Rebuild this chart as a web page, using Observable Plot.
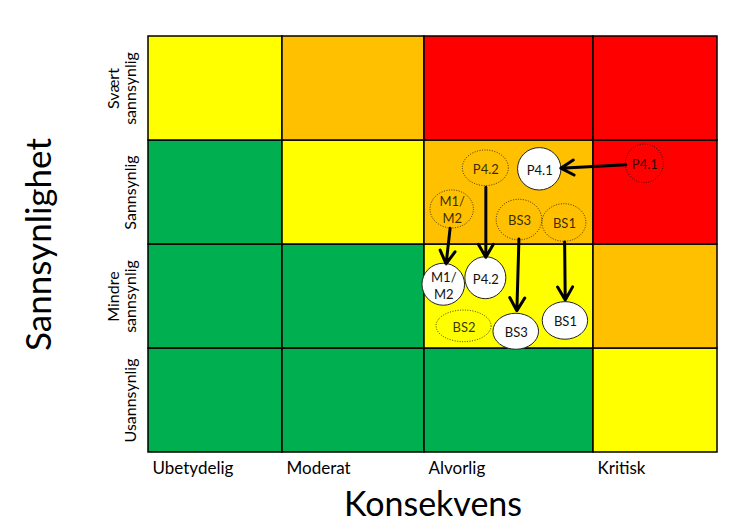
<!DOCTYPE html>
<html><head><meta charset="utf-8">
<script src="https://cdn.jsdelivr.net/npm/d3@7"></script>
<script src="https://cdn.jsdelivr.net/npm/@observablehq/plot@0.6"></script>
<style>body{margin:0;background:#fff}</style>
</head><body><div id="chart"></div>
<script>
// ---- data ----
const konsekvens = ["Ubetydelig", "Moderat", "Alvorlig", "Kritisk"];
const sannsynlighet = ["Usannsynlig", "Mindre\nsannsynlig", "Sannsynlig", "Svært\nsannsynlig"]; // bottom → top
const risikoNivaa = [ // per likelihood row (bottom → top), level per consequence column
  [0, 0, 0, 1],
  [0, 0, 1, 2],
  [0, 1, 2, 3],
  [1, 2, 3, 3]
];
const nivaaFarger = ["#00B050", "#FFFF00", "#FFC000", "#FF0000"];

const tiltak = ["P4.1", "P4.2", "M1/\nM2", "BS3", "BS1", "BS2"];
const forKonsekvens = [3.414, 2.363, 2.164, 2.562, 2.828, 2.234];
const forSannsynlighet = [2.776, 2.733, 2.337, 2.235, 2.207, 1.213];
const etterKonsekvens = [2.682, 2.363, 2.114, 2.543, 2.834, null];
const etterSannsynlighet = [2.723, 1.676, 1.613, 1.161, 1.265, null];

// ---- layout / style ----
const kolonneBredder = [134, 142, 169, 124]; // relative widths of the consequence columns
const kolonneStart = [0];
kolonneBredder.forEach((w, i) => kolonneStart.push(kolonneStart[i] + w));
const konsTransform = v => {
  const c = Math.min(Math.floor(v), kolonneBredder.length - 1);
  return kolonneStart[c] + (v - c) * kolonneBredder[c];
};
const forRx = [19, 23, 21.7, 22.8, 22, 27.5];
const forRy = [19.3, 17.8, 19, 20.3, 18.8, 15.8];
const etterRx = [21.7, 20.5, 21.3, 22.8, 22.7];
const etterRy = [21.2, 21, 21, 18, 18.8];

const cells = risikoNivaa.flatMap((row, r) => row.map((lvl, c) => ({c, r, lvl})));
const items = tiltak.map((t, i) => ({t, i, fx: forKonsekvens[i], fy: forSannsynlighet[i], ex: etterKonsekvens[i], ey: etterSannsynlighet[i]}));
const moved = items.filter(d => d.ex != null);

// render dots as ellipses
const ellipseRender = (rx, ry, attrs) => (index, scales, values) => {
  const g = d3.create("svg:g");
  for (const i of index) {
    const e = g.append("ellipse")
      .attr("cx", values.x[i]).attr("cy", values.y[i])
      .attr("rx", rx[i]).attr("ry", ry[i]);
    for (const [k, v] of Object.entries(attrs)) e.attr(k, v);
  }
  return g.node();
};

const chart = Plot.plot({
  width: 736, height: 523,
  marginLeft: 148, marginRight: 19, marginTop: 36, marginBottom: 71,
  style: {fontFamily: "Lato, sans-serif", background: "#fff", overflow: "visible"},
  x: {domain: [0, kolonneStart[4]], transform: konsTransform, axis: null},
  y: {domain: [0, 4], axis: null},
  color: {type: "ordinal", domain: [0, 1, 2, 3], range: nivaaFarger},
  marks: [
    Plot.rect(cells, {x1: "c", x2: d => d.c + 1, y1: "r", y2: d => d.r + 1, fill: "lvl", stroke: "#000", strokeWidth: 1.5}),
    Plot.axisX(d3.range(konsekvens.length), {tickSize: 0, tickPadding: 9, tickFormat: i => konsekvens[i], textAnchor: "start", dx: 4, fontSize: 17, fill: "#000", label: null}),
    Plot.text(sannsynlighet, {y: (d, i) => i + 0.5, text: d => d, frameAnchor: "left", textAnchor: "middle", dx: -13, rotate: -90, lineAnchor: "bottom", fontSize: 16, lineHeight: 1.06, fill: "#000"}),
    Plot.text(["Sannsynlighet"], {text: d => d, frameAnchor: "left", textAnchor: "middle", dx: -98, rotate: -90, lineAnchor: "bottom", fontSize: 35, fill: "#000"}),
    Plot.text(["Konsekvens"], {text: d => d, frameAnchor: "bottom", dy: 63, lineAnchor: "bottom", fontSize: 34, fill: "#000"}),
    Plot.dot(items, {x: "fx", y: "fy", r: 20, fill: "none", stroke: "#000", strokeOpacity: 0.75, strokeDasharray: "1,1.5",
      render: ellipseRender(forRx, forRy, {fill: "none", stroke: "#000", "stroke-opacity": 0.75, "stroke-width": 1, "stroke-dasharray": "1,1.5"})}),
    Plot.dot(moved, {x: "ex", y: "ey", r: 21, fill: "#fff", stroke: "#222",
      render: ellipseRender(etterRx, etterRy, {fill: "#fff", stroke: "#222", "stroke-width": 1})}),
    Plot.arrow(moved, {x1: "fx", y1: "fy", x2: "ex", y2: "ey", stroke: "#000", strokeWidth: 3, headLength: 7.5, insetStart: 19, insetEnd: 21}),
    Plot.text(items, {x: "fx", y: "fy", text: "t", fontSize: 13, fill: "#000", fillOpacity: 0.8, lineHeight: 1.3}),
    Plot.text(moved, {x: "ex", y: "ey", text: "t", fontSize: 13, fill: "#111", lineHeight: 1.3})
  ]
});
document.getElementById("chart").append(chart);
</script>
</body></html>
